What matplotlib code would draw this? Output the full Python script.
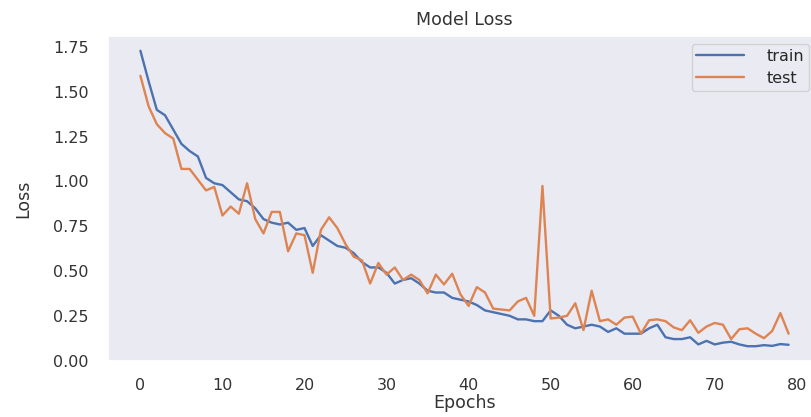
import matplotlib

matplotlib.use("Agg")
import matplotlib.pyplot as plt
import seaborn as sns

# loss per epoch
train_loss = [
    1.73, 1.56, 1.40, 1.37, 1.29, 1.21, 1.17, 1.14, 1.02, 0.99,
    0.98, 0.94, 0.90, 0.89, 0.85, 0.79, 0.77, 0.76, 0.77, 0.73,
    0.74, 0.64, 0.70, 0.67, 0.64, 0.63, 0.60, 0.55, 0.52, 0.52,
    0.49, 0.43, 0.45, 0.46, 0.43, 0.39, 0.38, 0.38, 0.35, 0.34,
    0.33, 0.31, 0.28, 0.27, 0.26, 0.25, 0.23, 0.23, 0.22, 0.22,
    0.28, 0.25, 0.20, 0.18, 0.19, 0.20, 0.19, 0.16, 0.18, 0.15,
    0.15, 0.15, 0.18, 0.20, 0.13, 0.12, 0.12, 0.13, 0.09, 0.11,
    0.09, 0.10, 0.105, 0.09, 0.08, 0.08, 0.086, 0.082, 0.092, 0.088,
]
test_loss = [
    1.59, 1.42, 1.32, 1.27, 1.24, 1.07, 1.07, 1.01, 0.95, 0.97,
    0.81, 0.86, 0.82, 0.99, 0.79, 0.71, 0.83, 0.83, 0.61, 0.71,
    0.70, 0.49, 0.73, 0.80, 0.74, 0.65, 0.58, 0.56, 0.43, 0.545,
    0.48, 0.52, 0.45, 0.48, 0.45, 0.375, 0.48, 0.425, 0.485, 0.37,
    0.305, 0.41, 0.38, 0.29, 0.285, 0.28, 0.33, 0.35, 0.25, 0.975,
    0.235, 0.24, 0.25, 0.32, 0.17, 0.39, 0.22, 0.23, 0.20, 0.24,
    0.245, 0.15, 0.225, 0.23, 0.22, 0.185, 0.17, 0.225, 0.155, 0.19,
    0.21, 0.20, 0.12, 0.175, 0.18, 0.15, 0.125, 0.165, 0.265, 0.15,
]
epochs = list(range(len(train_loss)))
x_ticks = [0, 10, 20, 30, 40, 50, 60, 70, 80]
y_ticks = [0.0, 0.25, 0.5, 0.75, 1.0, 1.25, 1.5, 1.75]

sns.set_theme(style="dark")
plt.rcParams["font.family"] = ["DejaVu Sans"]

fig = plt.figure(figsize=(8.12, 4.17), dpi=100)
# axes runs a bit past the right edge, as in the reference
ax = fig.add_axes([108 / 812, 56 / 417, 713 / 812, 325 / 417])

ax.plot(epochs, train_loss, label="train", linewidth=1.7)
ax.plot(epochs, test_loss, label="test", linewidth=1.7)

ax.set_xticks(x_ticks)
ax.set_yticks(y_ticks)
ax.set_yticklabels(["%.2f" % v for v in y_ticks])
ax.tick_params(axis="x", length=0, pad=12, labelsize=11.5, colors="#333333")
ax.tick_params(axis="y", length=0, pad=14, labelsize=11.5, colors="#333333")

ax.set_title("Model Loss", fontsize=12.5, color="#333333", pad=8)
ax.set_xlabel("Epochs", fontsize=12.5, color="#333333", labelpad=1)
ax.set_ylabel("Loss", fontsize=12.5, color="#333333", labelpad=15)

ax.legend(
    loc="upper right",
    bbox_to_anchor=(809 / 812, 1 - 44 / 417),
    bbox_transform=fig.transFigure,
    borderaxespad=0,
    fontsize=11.5,
    handlelength=3.0,
    handletextpad=1.4,
    labelspacing=0.45,
    borderpad=0.3,
)

plt.savefig("out.png", dpi=100)
